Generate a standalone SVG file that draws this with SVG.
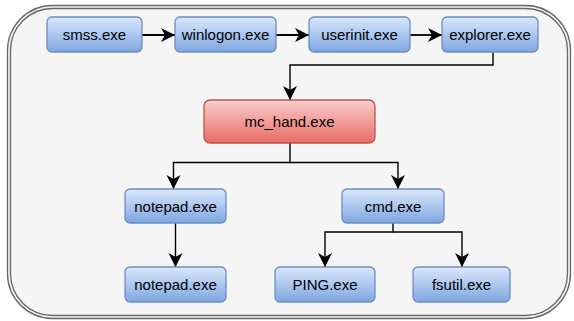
<svg xmlns="http://www.w3.org/2000/svg" width="574" height="321" viewBox="0 0 574 321">
  <defs>
    <linearGradient id="gBlue" x1="0" y1="0" x2="0" y2="1">
      <stop offset="0" stop-color="#dae8fc"/>
      <stop offset="1" stop-color="#7ea6e0"/>
    </linearGradient>
    <linearGradient id="gRed" x1="0" y1="0" x2="0" y2="1">
      <stop offset="0" stop-color="#f8cecc"/>
      <stop offset="1" stop-color="#ea6b66"/>
    </linearGradient>
    <marker id="arr" markerUnits="userSpaceOnUse" markerWidth="16" markerHeight="16" viewBox="-15 -8 16 16" refX="0" refY="0" orient="auto">
      <path d="M0,0 L-14,-7 L-10,0 L-14,7 Z" fill="#000"/>
    </marker>
  </defs>
  <style>
    .blue rect { fill: url(#gBlue); stroke: #6c8ebf; stroke-width: 1.3; }
    .red rect { fill: url(#gRed); stroke: #b85450; stroke-width: 1.3; }
    text { font-family: "Liberation Sans", Arial, sans-serif; font-size: 15px; fill: #000; text-anchor: middle; }
    .conn path { fill: none; stroke: #000; stroke-width: 1.4; marker-end: url(#arr); }
    .conn path.thick { stroke-width: 1.8; }
  </style>

  <g id="container">
    <rect x="7.5" y="5.5" width="563" height="313" rx="45" ry="45" fill="#f5f5f5" stroke="#666666" stroke-width="1.3"/>
    <rect x="10.5" y="8.5" width="557" height="307" rx="42" ry="42" fill="none" stroke="#666666" stroke-width="1.3"/>
  </g>

  <g class="conn" id="connectors">
    <path class="thick" d="M142,35 H175"/>
    <path class="thick" d="M276,35 H309"/>
    <path class="thick" d="M410,35 H442"/>
    <path d="M493,52 V65 H290 V100"/>
    <path d="M290,143 V162.5 H173.5 V189"/>
    <path d="M290,162.5 H398 V189"/>
    <path d="M175.5,223 V267"/>
    <path d="M393,223 V232 H325 V267"/>
    <path d="M393,232 H462 V267"/>
  </g>

  <g id="smss" class="blue"><rect x="47" y="17" width="95" height="35" rx="5"/><text x="94.5" y="40">smss.exe</text></g>
  <g id="winlogon" class="blue"><rect x="175" y="17" width="101" height="35" rx="5"/><text x="225.5" y="40">winlogon.exe</text></g>
  <g id="userinit" class="blue"><rect x="309" y="17" width="101" height="35" rx="5"/><text x="359.5" y="40">userinit.exe</text></g>
  <g id="explorer" class="blue"><rect x="442" y="17" width="96" height="35" rx="5"/><text x="490" y="40">explorer.exe</text></g>
  <g id="mc_hand" class="red"><rect x="204" y="100" width="171" height="43" rx="6"/><text x="289.5" y="127">mc_hand.exe</text></g>
  <g id="notepad1" class="blue"><rect x="125" y="189" width="101" height="34" rx="5"/><text x="175.5" y="211.5">notepad.exe</text></g>
  <g id="cmd" class="blue"><rect x="342" y="189" width="102" height="34" rx="5"/><text x="393" y="211.5">cmd.exe</text></g>
  <g id="notepad2" class="blue"><rect x="125" y="267" width="101" height="35" rx="5"/><text x="175.5" y="290">notepad.exe</text></g>
  <g id="ping" class="blue"><rect x="275" y="267" width="100" height="35" rx="5"/><text x="325" y="290">PING.exe</text></g>
  <g id="fsutil" class="blue"><rect x="413" y="267" width="97" height="35" rx="5"/><text x="461.5" y="290">fsutil.exe</text></g>
</svg>
